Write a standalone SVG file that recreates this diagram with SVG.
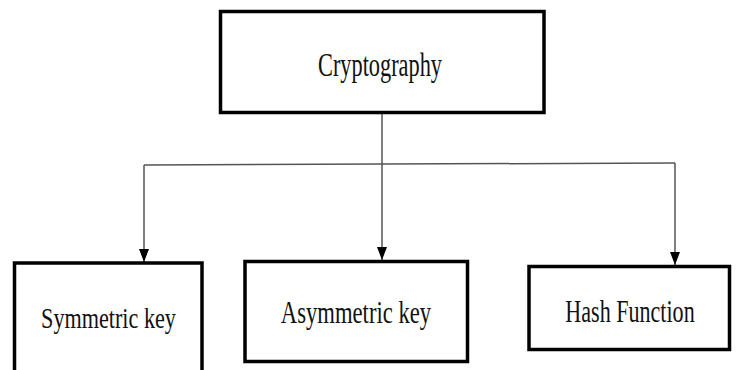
<svg xmlns="http://www.w3.org/2000/svg" width="736" height="370" viewBox="0 0 736 370">
  <style>
    .box { fill: #ffffff; stroke: #000000; stroke-width: 3.5; }
    .label { font-family: "Liberation Serif", "Times New Roman", serif; fill: #111111; text-anchor: middle; }
    .link { fill: none; stroke: #555555; stroke-width: 1.5; }
    .arrowed { marker-end: url(#arrow); }
  </style>
  <defs>
    <!-- filled downward arrowhead, tip at the path end -->
    <marker id="arrow" viewBox="0 0 13 10" refX="13" refY="5" markerWidth="13" markerHeight="10" markerUnits="userSpaceOnUse" orient="auto">
      <path d="M0,0 L13,5 L0,10 Z" fill="#000000"/>
    </marker>
  </defs>
  <rect width="736" height="370" fill="#ffffff"/>

  <g id="connectors">
    <path class="link" d="M144,165 L675,163"/>
    <path class="link arrowed" d="M144,165 L144,262"/>
    <path class="link arrowed" d="M382,114 L382,260"/>
    <path class="link arrowed" d="M675,163 L675,265"/>
  </g>

  <!-- labels use a tall, narrow serif: full-height glyphs squeezed horizontally -->
  <g id="cryptography">
    <rect class="box" x="220.5" y="11.5" width="323.5" height="101"/>
    <text class="label" transform="translate(380,76) scale(0.677,1)" x="0" y="0" font-size="33">Cryptography</text>
  </g>

  <g id="symmetric-key">
    <rect class="box" x="14.5" y="263" width="187.5" height="130"/>
    <text class="label" transform="translate(108.5,328) scale(0.765,1)" x="0" y="0" font-size="29">Symmetric key</text>
  </g>

  <g id="asymmetric-key">
    <rect class="box" x="245" y="261.5" width="222.5" height="100"/>
    <text class="label" transform="translate(356,323) scale(0.708,1)" x="0" y="0" font-size="32">Asymmetric key</text>
  </g>

  <g id="hash-function">
    <rect class="box" x="529" y="266.5" width="200.5" height="83"/>
    <text class="label" transform="translate(630,322) scale(0.69,1)" x="0" y="0" font-size="32">Hash Function</text>
  </g>
</svg>
